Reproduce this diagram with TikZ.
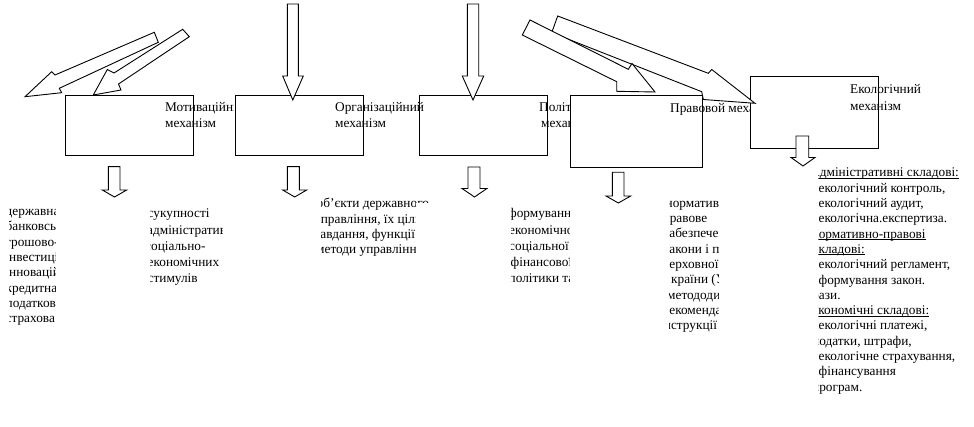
\documentclass[tikz,border=0pt]{standalone}
\usepackage{fontspec}
\setmainfont{Liberation Serif}
\newcommand{\ulin}[1]{\setbox0\hbox{#1}\rlap{\rule[-1.6pt]{\wd0}{0.75pt}}\box0}
\newcommand{\vblock}[8]{\draw[barrow] (#1,#3) -- (#2,#3) -- (#2,#4) -- (#6,#4) -- (#7,#8) -- (#5,#4) -- (#1,#4) -- cycle;}
\tikzset{
  ln/.style={line width=0.9pt, draw=black},
  boxst/.style={ln, fill=white, rectangle, inner sep=0pt},
  barrow/.style={ln, fill=white, line join=miter},
  txt/.style={inner sep=0pt, anchor=base west, font=\fontsize{13.3}{15.3}\selectfont},
}
\begin{document}
\begin{tikzpicture}[x=1pt,y=-1pt]
\fill[white, use as bounding box] (0,0) rectangle (974,427);

% boxes
\node[boxst, minimum width=128pt, minimum height=60pt] (b1) at (129,125) {};
\node[boxst, minimum width=128pt, minimum height=60pt] (b2) at (299,125) {};
\node[boxst, minimum width=128pt, minimum height=60pt] (b3) at (483,125) {};
\node[boxst, minimum width=132pt, minimum height=72pt] (b4) at (636,131) {};
\node[boxst, minimum width=128pt, minimum height=72pt] (b5) at (814,112) {};

% diagonal block arrows, right group
\draw[barrow] (557.7,16) -- (708.3,73.3) -- (711.7,69.5) -- (755,103.3) -- (703.3,99.5) -- (701.7,91.7) -- (551.7,32.7) -- cycle;
\draw[barrow] (530,20) -- (628.3,69.3) -- (632,63.5) -- (655,92) -- (616.7,91.3) -- (616.7,81.7) -- (522.3,35) -- cycle;
% diagonal block arrows, left group
\draw[barrow] (154.3,32.3) -- (55,75) -- (51.7,71.7) -- (25,96.7) -- (61.7,92.7) -- (59.3,88.3) -- (158.3,42.3) -- cycle;
\draw[barrow] (182.7,29.3) -- (114,73) -- (107.3,69.5) -- (93.3,95) -- (121,90) -- (118.5,84) -- (189.3,36.7) -- cycle;

% vertical block arrows into boxes
\vblock{287.3}{298.3}{4}{76}{282.7}{303.3}{292.8}{100}
\vblock{467.3}{478.7}{4}{76}{462.3}{483.7}{473}{100}
% vertical block arrows out of boxes
\vblock{108.3}{120}{166.7}{190}{102.3}{126.7}{114.5}{197}
\vblock{287.3}{299.3}{166.7}{190}{282.7}{306.7}{294.7}{197}
\vblock{468}{480}{167}{188.5}{462}{487}{474.5}{197}
\vblock{612.3}{624}{172.3}{196}{606}{630.7}{618.3}{203}
\vblock{796}{808.7}{136}{157.5}{791}{815}{803}{166}

% box labels
\begin{scope}
  \clip (160,90) rectangle (233.5,140);
  \node[txt] (l1a) at (165,111.5) {Мотиваційний};
  \node[txt] (l1b) at (165,128) {механізм};
\end{scope}
\node[txt] (l2a) at (335,111.5) {Організаційний};
\node[txt] (l2b) at (335,128) {механізм};
\begin{scope}
  \clip (530,90) rectangle (569.5,140);
  \node[txt] (l3a) at (539,111.5) {Політичний};
  \node[txt] (l3b) at (541,128) {механізм};
\end{scope}
\begin{scope}
  \clip (660,95) rectangle (749.5,125);
  \node[txt] (l4a) at (670,112.5) {Правовой механізм};
\end{scope}
\node[txt] (l5a) at (850,94) {Екологічний};
\node[txt] (l5b) at (850,110.5) {механізм};

% column 1
\begin{scope}
  \clip (9.3,195) rectangle (55,335);
  \foreach \xx/\tx [count=\i] in {5.5/державна, 5.5/банковська, 5.5/грошово-, 5.3/інвестиційна, 5.3/інноваційна, 5.5/кредитна, 5.5/податкова, 5.5/страхова}
    \node[txt] (ca\i) at (\xx,{200.4+15.3*\i}) {\tx};
\end{scope}
% column 2
\begin{scope}
  \clip (150.7,195) rectangle (222,300);
  \foreach \xx/\tx [count=\i] in {147.5/сукупності, 147/адміністративних, 145/соціально-, 147.5/економічних, 147.5/стимулів}
    \node[txt] (cb\i) at (\xx,{201.75+16.25*\i}) {\tx};
\end{scope}
% column 3
\begin{scope}
  \clip (320.7,190) -- (430,190) -- (430,203) -- (415.5,203) -- (415.5,265) -- (320.7,265) -- cycle;
  \foreach \xx/\tx [count=\i] in {316.5/{об'єкти державного}, 314/{управління, їх цілі}, 315/{завдання, функції}, 316/{методи управління}}
    \node[txt] (cc\i) at (\xx,{192.8+15.2*\i}) {\tx};
\end{scope}
% column 4
\begin{scope}
  \clip (511.7,195) rectangle (569,295);
  \foreach \xx/\tx [count=\i] in {508/формування, 509/економічної, 509/соціальної, 510.5/фінансової, 508.5/{політики та}}
    \node[txt] (cd\i) at (\xx,{201.9+16.1*\i}) {\tx};
\end{scope}
% column 5
\begin{scope}
  \clip (669.3,190) rectangle (718.3,340);
  \foreach \xx/\tx [count=\i] in {665.5/нормативно-, 662.5/правове, 664/забезпечення:, 664/{закони і постанови}, 660.3/{Верховної Ради}, 671/{країни (України),}, 667/метододичні, 662.5/рекомендації, 660/інструкції}
    \node[txt] (ce\i) at (\xx,{192+15.3*\i}) {\tx};
\end{scope}
% column 6
\begin{scope}
  \clip (818.3,160) rectangle (974,410);
  \foreach \xx/\tx [count=\i] in {810/{\ulin{Адміністративні складові:}}, 818.5/{екологічний контроль,}, 818.5/{екологічний аудит,}, 818.5/{екологічна.експертиза.}, 809/{\ulin{Нормативно-правові}}, 812.5/{\ulin{складові:}}, 818.5/{екологічний регламент,}, 818.5/{формування закон.}, 812/{бази.}, 810/{\ulin{Економічні складові:}}, 818.5/{екологічні платежі,}, 812/{податки, штрафи,}, 818.5/{екологічне страхування,}, 818.5/{фінансування}, 812/{програм.}}
    \node[txt] (cf\i) at (\xx,{161.7+15.3*\i}) {\tx};
\end{scope}
\end{tikzpicture}
\end{document}
